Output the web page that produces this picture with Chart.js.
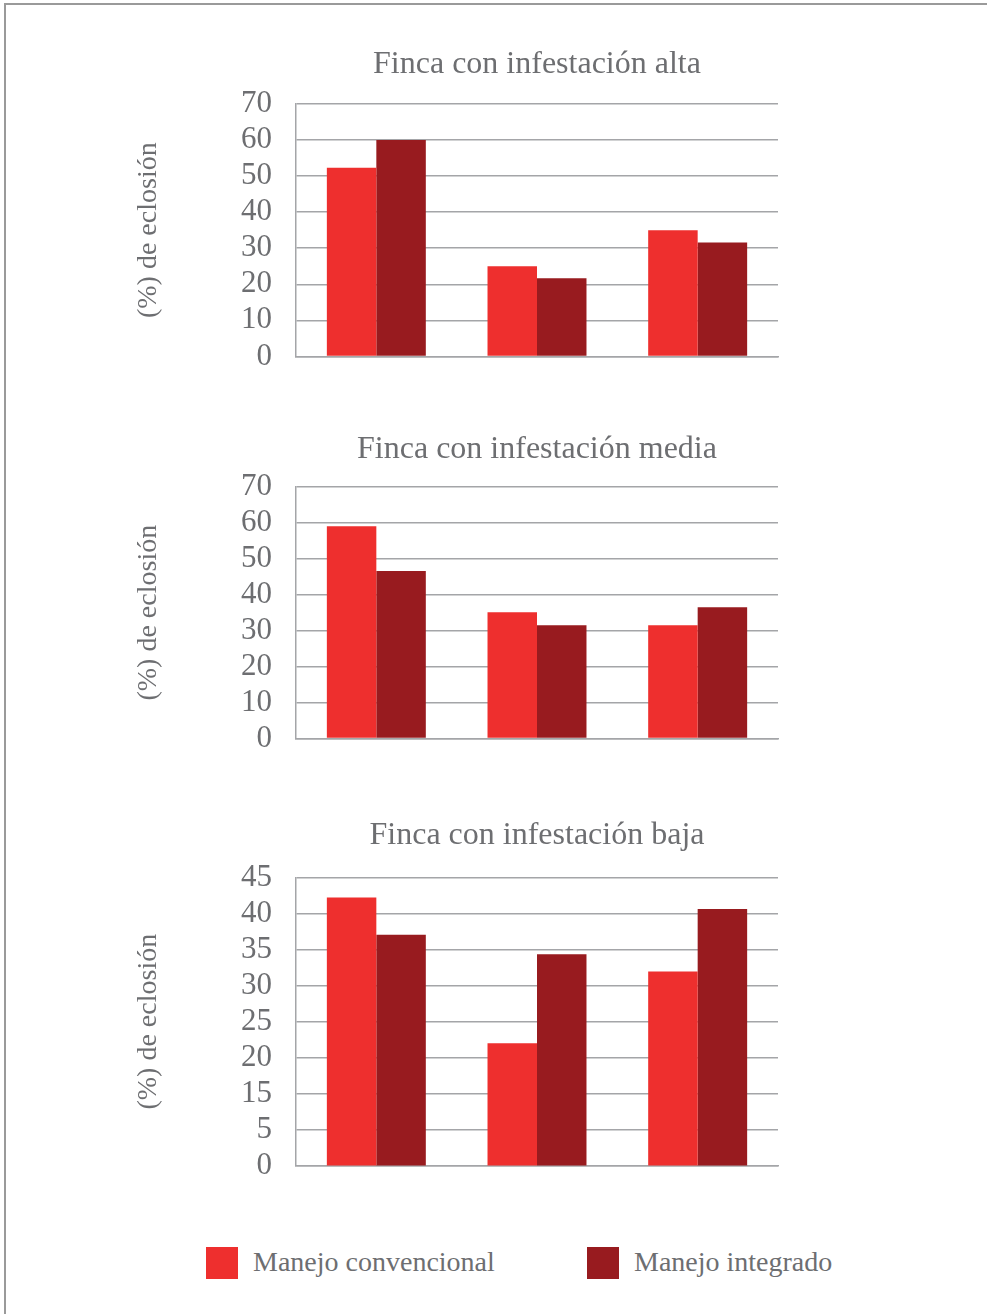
<!DOCTYPE html>
<html>
<head>
<meta charset="utf-8">
<script src="https://cdn.jsdelivr.net/npm/chart.js@4/dist/chart.umd.min.js"></script>
<style>
  body { margin: 0; background: #fff; }
  #page {
    position: relative; width: 987px; height: 1314px; overflow: hidden;
    border-top: 2px solid #9a9a9a; border-left: 2px solid #9a9a9a;
    box-sizing: border-box; margin: 3px 0 0 4px;
  }
  canvas { position: absolute; }
  .legend { position: absolute; top: 1242px; font-family: 'Liberation Serif', serif; font-size: 28px; color: #6d6e71; }
  .legend span.box { position: absolute; top: 0; width: 32px; height: 32px; }
  .legend span.txt { position: absolute; top: -1px; left: 47px; white-space: nowrap; }
</style>
</head>
<body>
<div id="page">
  <canvas id="c1" width="882" height="354"></canvas>
  <canvas id="c2" width="882" height="351"></canvas>
  <canvas id="c3" width="882" height="392"></canvas>
  <div id="legend"></div>
</div>
<script>
// datos
const categories = ['1', '2', '3'];
const seriesNames = ['Manejo convencional', 'Manejo integrado'];
const seriesColors = ['#ee2f2e', '#981b1f'];

const altaConvencional = [52.3, 25.0, 35.0];
const altaIntegrado = [60.0, 21.7, 31.6];

const mediaConvencional = [59.1, 35.1, 31.5];
const mediaIntegrado = [46.6, 31.5, 36.5];

const bajaConvencional = [42.3, 22.0, 32.0];
const bajaIntegrado = [37.1, 34.4, 40.7];

// el eje del tercer gráfico viene así en el original (sin el 10)
const bajaTickLabels = ['0', '5', '15', '20', '25', '30', '35', '40', '45'];

const textColor = '#6d6e71';
const gridColor = '#a4a5a8';
const fontFamily = "'Liberation Serif', serif";

function makeChart(id, top, title, conv, integ, yOpts, titlePadBottom) {
  const canvas = document.getElementById(id);
  canvas.style.left = '90px';
  canvas.style.top = top + 'px';
  return new Chart(canvas.getContext('2d'), {
    type: 'bar',
    data: {
      labels: categories,
      datasets: [
        { label: seriesNames[0], data: conv, backgroundColor: seriesColors[0] },
        { label: seriesNames[1], data: integ, backgroundColor: seriesColors[1] }
      ]
    },
    options: {
      responsive: false,
      animation: false,
      devicePixelRatio: 1,
      layout: { padding: { left: 20, right: 200, bottom: 0, top: 0 } },
      datasets: { bar: { categoryPercentage: 0.616, barPercentage: 1 } },
      plugins: {
        legend: { display: false },
        tooltip: { enabled: false },
        title: {
          display: true,
          fullSize: false,
          text: title,
          color: textColor,
          font: { family: fontFamily, size: 32, weight: 'normal' },
          padding: { top: 0, bottom: titlePadBottom }
        }
      },
      scales: {
        x: {
          grid: { display: false, drawTicks: false },
          ticks: { display: false },
          border: { display: true, color: gridColor, width: 1.5 },
          afterFit: function (scale) { scale.height = 0; }
        },
        y: Object.assign({
          grid: { color: gridColor, lineWidth: 1.5, drawTicks: false },
          border: { display: true, color: gridColor, width: 1.5 },
          title: {
            display: true,
            text: '(%) de eclosión',
            color: textColor,
            font: { family: fontFamily, size: 28 },
            padding: { top: 16, bottom: 0 }
          },
          afterFit: function (scale) { scale.width = 180; }
        }, yOpts)
      }
    }
  });
}

makeChart('c1', 40, 'Finca con infestación alta', altaConvencional, altaIntegrado, {
  min: 0, max: 70,
  ticks: { stepSize: 10, autoSkip: false, color: textColor, padding: 24, font: { family: fontFamily, size: 31 } }
}, 20.6);

makeChart('c2', 425, 'Finca con infestación media', mediaConvencional, mediaIntegrado, {
  min: 0, max: 70,
  ticks: { stepSize: 10, autoSkip: false, color: textColor, padding: 24, font: { family: fontFamily, size: 31 } }
}, 18.6);

makeChart('c3', 811, 'Finca con infestación baja', bajaConvencional, bajaIntegrado, {
  min: 5, max: 45,
  ticks: {
    stepSize: 5, autoSkip: false, color: textColor, padding: 24, font: { family: fontFamily, size: 31 },
    callback: function (value, index) { return bajaTickLabels[index]; }
  }
}, 23.6);

// leyenda común
const legendLeft = [200, 581];
const legend = document.getElementById('legend');
seriesNames.forEach(function (name, i) {
  const item = document.createElement('div');
  item.className = 'legend';
  item.style.left = legendLeft[i] + 'px';
  item.innerHTML = '<span class="box" style="background:' + seriesColors[i] + '"></span><span class="txt">' + name + '</span>';
  legend.appendChild(item);
});
</script>
</body>
</html>
